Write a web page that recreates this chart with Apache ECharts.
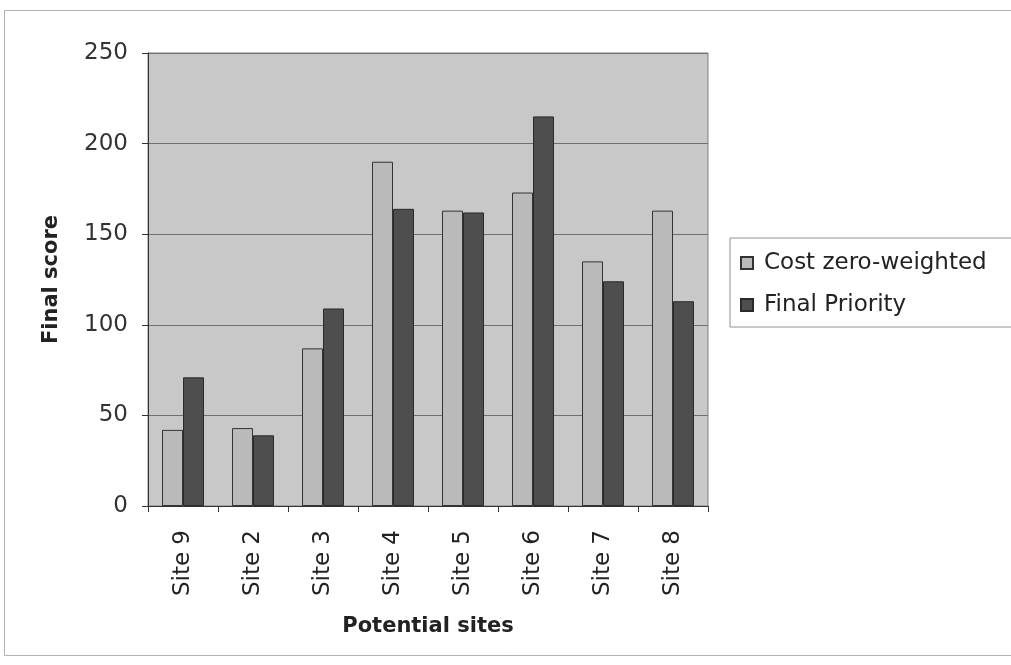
<!DOCTYPE html>
<html>
<head>
<meta charset="utf-8">
<script src="https://cdn.jsdelivr.net/npm/echarts@6/dist/echarts.min.js"></script>
<style>html,body{margin:0;padding:0;background:#fff;}#c{width:1011px;height:665px;}</style>
</head>
<body>
<div id="c"></div>
<script>
const categories = ['Site 9', 'Site 2', 'Site 3', 'Site 4', 'Site 5', 'Site 6', 'Site 7', 'Site 8'];
const costZeroWeighted = [42, 43, 87, 190, 163, 173, 135, 163];
const finalPriority = [71, 39, 109, 164, 162, 215, 124, 113];
const seriesNames = ['Cost zero-weighted', 'Final Priority'];
const yTicks = { min: 0, max: 250, interval: 50 };

const chart = echarts.init(document.getElementById('c'));
const font = 'DejaVu Sans';
chart.setOption({
  animation: false,
  backgroundColor: '#ffffff',
  graphic: [{
    type: 'rect', silent: true, z: -10,
    shape: { x: 4.5, y: 10.5, width: 1030, height: 645 },
    style: { fill: 'none', stroke: '#b0b0b0', lineWidth: 1 }
  }],
  grid: {
    left: 148, right: 303, top: 53, bottom: 159,
    show: true, backgroundColor: '#c8c8c8', borderColor: '#808080', borderWidth: 1
  },
  legend: {
    orient: 'vertical', left: 730, top: 238,
    padding: [11, 30, 8, 10],
    borderColor: '#909090', borderWidth: 1,
    itemWidth: 12, itemHeight: 12, itemGap: 14,
    icon: 'rect',
    textStyle: { fontFamily: font, fontSize: 23, color: '#222', lineHeight: 28, padding: [0, 0, 0, 6] },
    data: seriesNames
  },
  xAxis: {
    type: 'category', data: categories,
    name: 'Potential sites', nameLocation: 'middle', nameGap: 110,
    nameTextStyle: { fontFamily: font, fontSize: 21, fontWeight: 'bold', color: '#222' },
    axisLine: { lineStyle: { color: '#333', width: 1 } },
    axisTick: { show: true, length: 6, lineStyle: { color: '#333' } },
    axisLabel: { rotate: 90, margin: 24, fontFamily: font, fontSize: 23, color: '#222' },
    splitLine: { show: false }
  },
  yAxis: {
    type: 'value', min: yTicks.min, max: yTicks.max, interval: yTicks.interval,
    name: 'Final score', nameLocation: 'middle', nameGap: 86, nameRotate: 90,
    nameTextStyle: { fontFamily: font, fontSize: 21, fontWeight: 'bold', color: '#222' },
    axisLine: { show: true, lineStyle: { color: '#333', width: 1 } },
    axisTick: { show: true, length: 6, lineStyle: { color: '#333' } },
    axisLabel: { margin: 20, fontFamily: font, fontSize: 23, color: '#333' },
    splitLine: { show: true, lineStyle: { color: '#707070', width: 1 } }
  },
  series: [
    {
      name: seriesNames[0], type: 'bar', data: costZeroWeighted,
      barGap: '0%', barCategoryGap: '40%',
      itemStyle: { color: '#bababa', borderColor: '#333', borderWidth: 1 }
    },
    {
      name: seriesNames[1], type: 'bar', data: finalPriority,
      barGap: '0%', barCategoryGap: '40%',
      itemStyle: { color: '#4e4e4e', borderColor: '#2a2a2a', borderWidth: 1 }
    }
  ]
});
</script>
</body>
</html>
